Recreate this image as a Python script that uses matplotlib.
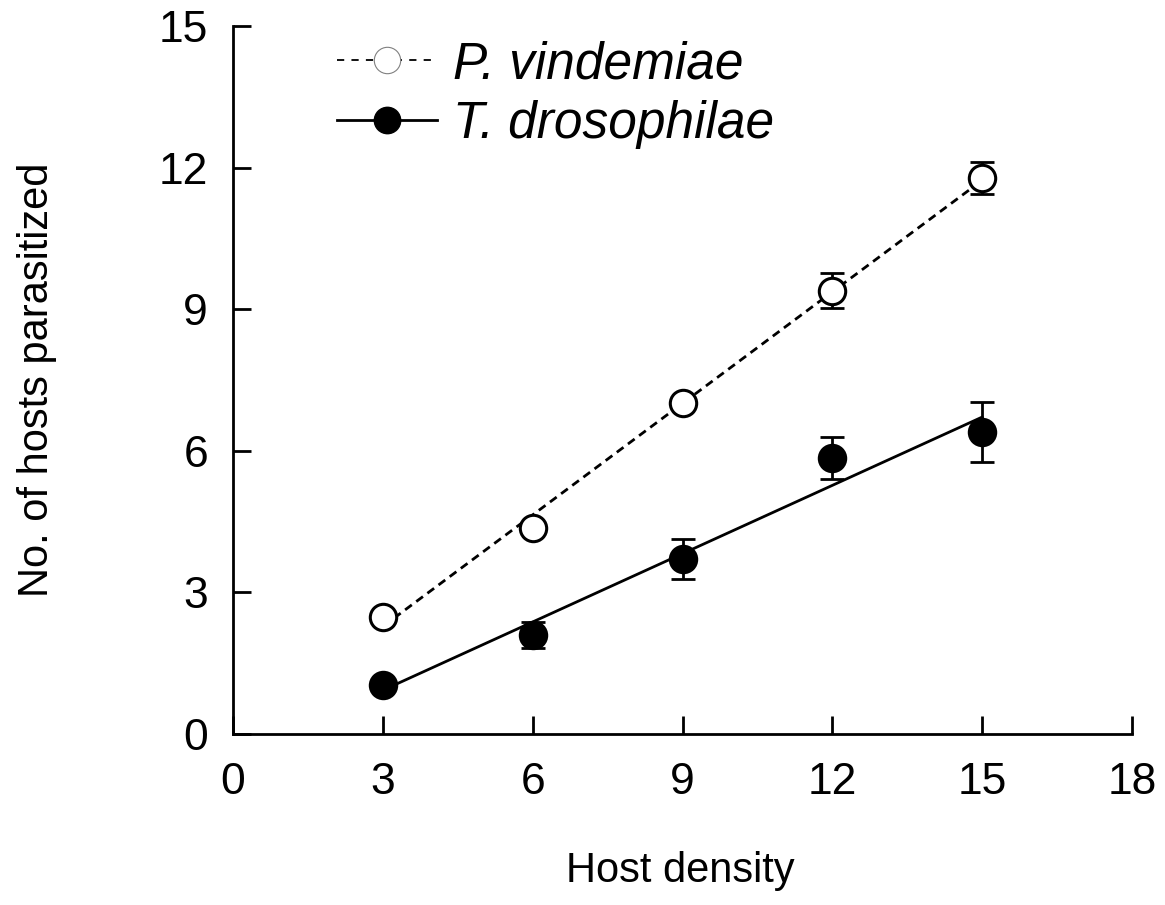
import numpy as np
import matplotlib
matplotlib.use("Agg")
import matplotlib.pyplot as plt
from matplotlib.lines import Line2D

plt.rcParams['font.family'] = ['Liberation Sans', 'DejaVu Sans']

host_density = [3, 6, 9, 12, 15]
pv_mean = [2.48, 4.36, 7.01, 9.39, 11.78]
pv_err = [0.08, 0.10, 0.12, 0.37, 0.33]
td_mean = [1.04, 2.10, 3.71, 5.85, 6.40]
td_err = [0.08, 0.28, 0.42, 0.44, 0.63]
labels = ["P. vindemiae", "T. drosophilae"]
x_ticks = [0, 3, 6, 9, 12, 15, 18]
y_ticks = [0, 3, 6, 9, 12, 15]

fig = plt.figure(figsize=(11.65, 9.05), dpi=100)
ax = fig.add_axes([0.2, 0.189, 0.7717, 0.7823])

x = np.array(host_density, dtype=float)
# regression lines
for mean, ls in [(pv_mean, (0, (3, 2))), (td_mean, '-')]:
    b, a = np.polyfit(x, mean, 1)
    ax.plot([x[0], x[-1]], [a + b * x[0], a + b * x[-1]], color='black',
            lw=2, linestyle=ls, zorder=1)

ax.errorbar(x, pv_mean, yerr=pv_err, fmt='none', ecolor='black', elinewidth=2,
            capsize=8.3, capthick=2, zorder=2)
ax.errorbar(x, td_mean, yerr=td_err, fmt='none', ecolor='black', elinewidth=2,
            capsize=8.3, capthick=2, zorder=2)
ax.plot(x, pv_mean, 'o', ms=19, mfc='white', mec='black', mew=2.2, zorder=3)
ax.plot(x, td_mean, 'o', ms=19, mfc='black', mec='black', mew=2.2, zorder=3)

ax.set_xlim(0, 18)
ax.set_ylim(0, 15)
ax.set_xticks(x_ticks)
ax.set_yticks(y_ticks)
ax.spines['top'].set_visible(False)
ax.spines['right'].set_visible(False)
for s in ['left', 'bottom']:
    ax.spines[s].set_linewidth(2)
ax.tick_params(axis='x', direction='in', length=13, width=2, labelsize=32, pad=20)
ax.tick_params(axis='y', direction='in', length=13, width=2, labelsize=32, pad=18)

ax.set_xlabel("Host density", fontsize=30)
ax.set_ylabel("No. of hosts parasitized", fontsize=30)
ax.xaxis.set_label_coords(0.497, -0.165)
ax.yaxis.set_label_coords(-0.196, 0.5)

handles = [
    Line2D([], [], color='black', lw=1.3, linestyle=(0, (4, 4)), marker='o', ms=19,
           mfc='white', mec='gray', mew=0.8),
    Line2D([], [], color='black', lw=2, linestyle='-', marker='o', ms=19,
           mfc='black', mec='black'),
]
leg = ax.legend(handles, labels, loc='upper left', bbox_to_anchor=(0.1157, 0.98),
                frameon=False, handlelength=1.95, handletextpad=0.3,
                borderpad=0, borderaxespad=0,
                labelspacing=0.22, prop={'style': 'italic', 'size': 37})

fig.savefig("out.png", dpi=100)
